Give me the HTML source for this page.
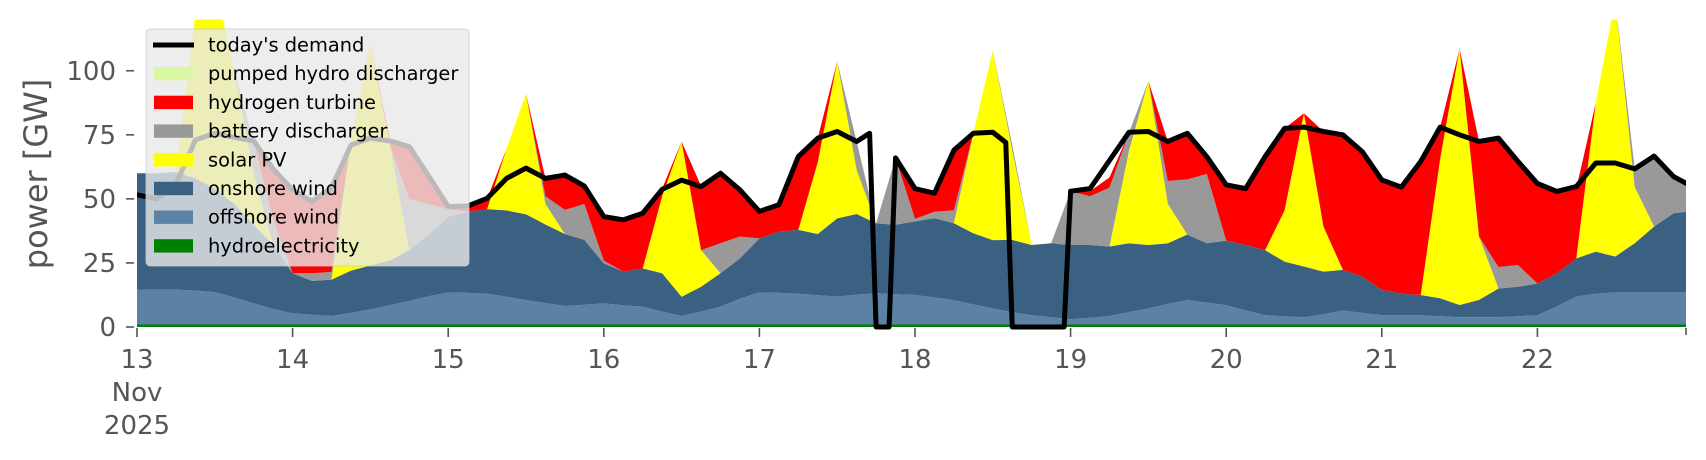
<!DOCTYPE html>
<html><head><meta charset="utf-8"><title>Power generation stack</title>
<style>
html,body{margin:0;padding:0;background:#fff;}
svg{display:block;font-family:"DejaVu Sans","Liberation Sans",sans-serif;}
</style></head>
<body>
<svg id="chart" width="1706" height="460" viewBox="0 0 1706 460" xmlns="http://www.w3.org/2000/svg">
<defs><clipPath id="plotclip"><rect x="137" y="19.5" width="1549" height="310"/></clipPath></defs>
<g id="areas" clip-path="url(#plotclip)"></g>
<g id="demandg" clip-path="url(#plotclip)"></g>
<g id="yaxis"></g>
<g id="xaxis"></g>
<text x="0" y="0" transform="translate(47,174) rotate(-90)" text-anchor="middle" font-size="32" fill="#555">power [GW]</text>
<g id="legend"></g>
</svg>
<script>
const hours = [0,3,6,9,12,15,18,21,24,27,30,33,36,39,42,45,48,51,54,57,60,63,66,69,72,75,78,81,84,87,90,93,96,99,102,105,108,111,114,117,120,123,126,129,132,135,138,141,144,147,150,153,156,159,162,165,168,171,174,177,180,183,186,189,192,195,198,201,204,207,210,213,216,219,222,225,228,231,234,237,239];
const hydro = [1,1,1,1,1,1,1,1,1,1,1,1,1,1,1,1,1,1,1,1,1,1,1,1,1,1,1,1,1,1,1,1,1,1,1,1,1,1,1,1,1,1,1,1,1,1,1,1,1,1,1,1,1,1,1,1,1,1,1,1,1,1,1,1,1,1,1,1,1,1,1,1,1,1,1,1,1,1,1,1,1];
const offshore = [13.5,13.6,13.6,13.2,12.6,10.5,8.2,6,4.3,3.8,3.3,4.5,5.9,7.5,9.2,11,12.5,12.3,12,10.8,9.5,8.3,7.2,7.7,8.2,7.5,6.9,5,3.3,5,6.9,10,12.5,12.3,12,11.4,10.9,11.6,12.2,11.8,11.5,10.5,9.5,7.8,6.2,4.8,3.6,2.8,2,2.6,3.3,4.8,6.2,8,9.5,8.5,7.5,5.5,3.6,3.2,2.8,4,5.4,4.5,3.6,3.6,3.6,3.2,2.8,2.8,2.8,3.2,3.6,7,10.9,12,12.5,12.5,12.5,12.5,12.5];
const onshore = [45.5,45.4,45.9,43.8,40.4,36.5,30.8,25,15.7,13.2,14.2,16.5,17.1,17.5,19.8,24,29.5,31.7,33,33.7,33.5,30.7,28.1,25.3,15.7,13.1,15,15,7.5,9.7,13.1,15.8,21.1,23.9,24.9,23.9,30.5,31.5,27.3,27.1,28.7,31,30,27.8,26.7,28.2,27.4,28.9,29,28.4,27.1,26.9,24.8,23.7,25.6,23.2,25.2,25.5,25.4,21.3,19.8,16.6,15.9,14.1,9.9,8.4,7.9,7,4.8,6.8,11.2,11.5,12.4,13,14.9,16.4,14,19.2,25.7,30.9,31.5];
const solar = [0,0,0,64,81,52,20,0,0,0,0,50,87,45,0,0,0,0,0,24,47,8,0,0,0,0,0,30,60.6,14.3,0,0,0,0,0,28,61.2,17.2,0,0,0,0,0,39,74,35,0,0,0,0,0,36,64,15.3,0,0,0,0,0,20,59.8,17.6,0,0,0,0,0,54.4,100,24.7,0,0,0,0,0,58,100,22,0,0,0];
const battery = [0,0,0,0,0,0,12,10,0,3,3,0,0,0,20,12,3,0,0,0,0,3,9.4,14,1,0,0,0,0,0,11.7,8.5,0,0,0,0,0,11.1,0,26,1,2.5,5,0,0,2,0,0,21,19,23,7,0,9,21.5,27,0,0,0,0,0,0,0,0,0,0,0,0,0,0,8.4,8.5,0,0,0,0,0,7.3,27.5,14.3,10.4];
const hydrogen = [0,0,0,0,0,0,0,20,32,28,33,0,0,2,20,10,1,2,4,0,0,7,13.6,7,17,20,21.5,3,0,25,27.3,18.2,10.5,10.5,28.6,9.4,0,0,0,0,12,7.2,23.5,0,0,0,0,0,0,2,4,0,0,15.4,18,6.8,21.8,22,36.5,32,0,37.1,52.7,48.8,42.9,41.6,52.1,12.4,0,37.1,50.3,40.4,39,31.9,27.2,0,0,0,0,0,0];
const pumped = [0,0,0,0,0,0,0,0,0,0,0,0,0,0,0,0,0,0,0,0,0,0,0,0,0,0,0,0,0,0,0,0,0,0,0,0,0,0,0,0,0,0,0,0,0,0,0,0,0,0,0,0,0,0,0,0,0,0,0,0,0,0,0,0,0,0,0,0,0,0,0,0,0,0,0,0,0,0,0,0,0];
const demandHours = [0,3,6,9,12,15,18,21,24,27,30,33,36,39,42,45,48,51,54,57,60,63,66,69,72,75,78,81,84,87,90,93,96,99,102,105,108,111,113,114,116,117,120,123,126,129,132,134,135,143,144,147,150,153,156,159,162,165,168,171,174,177,180,183,186,189,192,195,198,201,204,207,210,213,216,219,222,225,228,231,234,237,239];
const demand = [51.6,50,55.6,73,75.6,74,72.6,61.7,53.5,49,54.4,71,73.7,72.6,70.4,58.9,47,47.2,50.2,58,62,58,59.3,55,43.1,41.8,44.4,53.7,57.3,54.8,60,53.5,45.1,47.7,66.5,73.7,76.3,72.4,75.6,0,0,66,54,52.2,69,75.6,76,72,0,0,53,54,65,76,76.3,72.4,75.6,66.5,55.5,54,66.5,77.5,78,76.3,75,68.4,57.4,54.6,64.6,78,75,72.4,73.7,64.6,56,52.9,54.8,64,64,61.7,66.7,58.7,56];
const yTicks = [0,25,50,75,100];
const xTickDays = [0,1,2,3,4,5,6,7,8,9];
const xTickLabels = ["13","14","15","16","17","18","19","20","21","22"];

const NS = "http://www.w3.org/2000/svg";
const X0 = 137, PX_DAY = 155.6, Y0 = 327, PX_GW = 2.5625;
function xs(h){ return X0 + h/24*PX_DAY; }
function ys(v){ return Y0 - v*PX_GW; }
function mk(tag, attrs, parent){ const e=document.createElementNS(NS,tag); for(const k in attrs) e.setAttribute(k,attrs[k]); parent.appendChild(e); return e; }

const areas = document.getElementById('areas');
const layers = [
  {v:hydro, c:'#008000', n:'hydroelectricity-area'},
  {v:offshore, c:'#5b82a4', n:'offshore-wind-area'},
  {v:onshore, c:'#3b6182', n:'onshore-wind-area'},
  {v:solar, c:'#ffff00', n:'solar-pv-area'},
  {v:battery, c:'#999999', n:'battery-discharger-area'},
  {v:hydrogen, c:'#ff0000', n:'hydrogen-turbine-area'},
  {v:pumped, c:'#d9f7a3', n:'pumped-hydro-area'}
];
let base = hours.map(()=>0);
layers.forEach(L=>{
  const top = base.map((b,i)=>b+L.v[i]);
  let pts = [];
  for(let i=0;i<hours.length;i++) pts.push(xs(hours[i]).toFixed(2)+','+ys(top[i]).toFixed(2));
  for(let i=hours.length-1;i>=0;i--) pts.push(xs(hours[i]).toFixed(2)+','+ys(base[i]).toFixed(2));
  const p = mk('polygon',{points:pts.join(' '),fill:L.c,stroke:'none'},areas);
  
  
  base = top;
});

const dg = document.getElementById('demandg');
const dpts = demandHours.map((h,i)=>xs(h).toFixed(2)+','+ys(demand[i]).toFixed(2)).join(' ');
const dl = mk('polyline',{points:dpts,fill:'none',stroke:'#000','stroke-width':5,'stroke-linejoin':'round','stroke-linecap':'round'},dg);



const ya = document.getElementById('yaxis');
yTicks.forEach(t=>{
  const y = ys(t);
  const tk = mk('line',{x1:126,x2:134,y1:y,y2:y,stroke:'#555','stroke-width':1.6},ya);
  
  
  const tx = mk('text',{x:116,y:y+9,'text-anchor':'end','font-size':26,fill:'#555'},ya);
  tx.textContent = String(t);
  
  
});

const xa = document.getElementById('xaxis');
xTickDays.forEach((d,i)=>{
  const x = xs(d*24);
  const tk = mk('line',{x1:x,x2:x,y1:328,y2:337,stroke:'#555','stroke-width':1.6},xa);
  
  
  const tx = mk('text',{x:x,y:368,'text-anchor':'middle','font-size':26,fill:'#555'},xa);
  tx.textContent = xTickLabels[i];
  
  
});
const endTick = mk('line',{x1:1686,x2:1686,y1:328,y2:335,stroke:'#555','stroke-width':1.6},xa);


const mon = mk('text',{x:137,y:401,'text-anchor':'middle','font-size':26,fill:'#555'},xa);
mon.textContent = 'Nov';


const yr = mk('text',{x:137,y:434,'text-anchor':'middle','font-size':26,fill:'#555'},xa);
yr.textContent = '2025';



const lg = document.getElementById('legend');
const box = mk('rect',{x:146,y:29,width:323,height:237,rx:4,ry:4,fill:'rgba(232,232,232,0.8)',stroke:'rgba(204,204,204,0.8)','stroke-width':1},lg);


const entries = [
  {t:"today's demand", c:'#000', line:true, n:'legend-entry-demand'},
  {t:'pumped hydro discharger', c:'#d9f7a3', n:'legend-entry-pumped-hydro'},
  {t:'hydrogen turbine', c:'#ff0000', n:'legend-entry-hydrogen'},
  {t:'battery discharger', c:'#999999', n:'legend-entry-battery'},
  {t:'solar PV', c:'#ffff00', n:'legend-entry-solar'},
  {t:'onshore wind', c:'#3b6182', n:'legend-entry-onshore'},
  {t:'offshore wind', c:'#5b82a4', n:'legend-entry-offshore'},
  {t:'hydroelectricity', c:'#008000', n:'legend-entry-hydro'}
];
entries.forEach((e,i)=>{
  const cy = 45 + i*28.7;
  const g = mk('g',{},lg);
  
  
  if(e.line){ mk('line',{x1:153,x2:194,y1:cy,y2:cy,stroke:'#000','stroke-width':5}, g); }
  else { mk('rect',{x:154,y:cy-6.7,width:39,height:13.4,fill:e.c},g); }
  const t = mk('text',{x:208,y:cy+6.5,'font-size':19.4,fill:'#000'},g);
  t.textContent = e.t;
});
</script>
</body></html>
